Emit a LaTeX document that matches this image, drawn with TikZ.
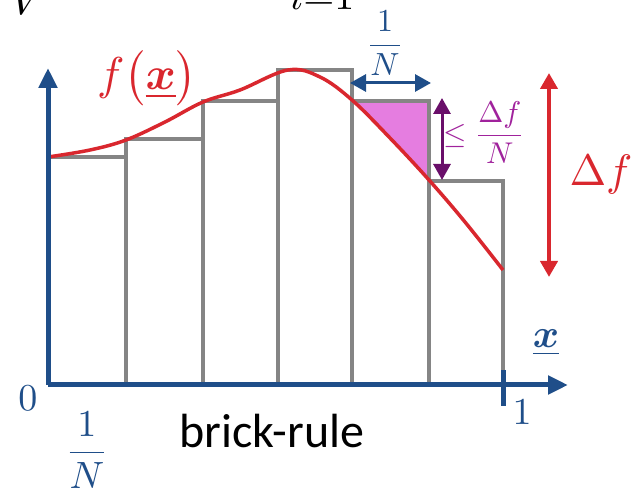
\documentclass[tikz,border=0pt]{standalone}
\usepackage{amsmath,bm}
\usepackage{fontspec}
\newfontfamily\calib{Carlito}
\usetikzlibrary{arrows.meta}
\definecolor{axblue}{HTML}{1F4E89}
\definecolor{cred}{HTML}{D9272E}
\definecolor{bgray}{HTML}{858585}
\definecolor{pinkfill}{HTML}{E57DE0}
\definecolor{darkpurp}{HTML}{6A0F6A}
\definecolor{txtpurp}{HTML}{A0229C}
\newcommand\mysz[2]{\scalebox{#1}{$\displaystyle #2$}}
\newcommand\curvepts{(48,157) (90,150) (126,140) (165,122) (203,102) (240,90) (288,70) (320,77) (352,100) (390,138) (429,180) (465,222) (503,270)}
\tikzset{
  brick/.style={draw=bgray,line width=3.5pt},
  axis/.style={draw=axblue,line width=5pt,-{Triangle[length=20pt,width=18pt]}},
  dblarr/.style={{Triangle[length=16pt,width=17pt]}-{Triangle[length=16pt,width=17pt]}},
  lbl/.style={inner sep=0pt},
}
\begin{document}
\begin{tikzpicture}[x=1pt,y=-1pt]
\useasboundingbox (0,0) rectangle (633,497);
\clip (0,0) rectangle (633,497);
% cut-off text at top
\node[lbl,anchor=base] (topv) at (28,15) {\mysz{4.4}{V}};
\node[lbl,anchor=base] (topi) at (322,10) {\mysz{4.0}{i{=}1}};
% pink triangle
\begin{scope}
  \clip (352,101) rectangle (429,200);
  \fill[pinkfill] plot[smooth,tension=0.6] coordinates {\curvepts} -- (503,0) -- (48,0) -- cycle;
\end{scope}
% bricks
\draw[brick] (48,385) -- (48,157) -- (126,157) -- (126,385);
\draw[brick] (126,157) -- (126,139) -- (203,139) -- (203,385);
\draw[brick] (203,139) -- (203,101) -- (278,101) -- (278,385);
\draw[brick] (278,101) -- (278,70) -- (352,70) -- (352,385);
\draw[brick] (352,101) -- (429,101) -- (429,385);
\draw[brick] (429,181) -- (503,181) -- (503,385);
% curve
\draw[cred,line width=3.5pt] plot[smooth,tension=0.6] coordinates {\curvepts};
% axes
\coordinate (o) at (48,385);
\coordinate (xend) at (568,385);
\coordinate (yend) at (48,68);
\draw[axis] (o) -- (xend);
\draw[axis] (o) -- (yend);
\coordinate (tka) at (503,370);
\coordinate (tkb) at (503,406);
\draw[axblue,line width=5pt] (tka) -- (tkb);
% labels
\node[lbl,text=axblue] (zero) at (28,398) {\mysz{3.8}{0}};
\node[lbl,text=axblue] (one) at (522,412) {\mysz{3.8}{1}};
\node[lbl,text=axblue] (xlab) at (546,343) {\mysz{4.0}{\underline{\bm{x}}}};
\node[lbl,text=axblue] (fracb) at (87,450) {\mysz{3.8}{\frac{1}{N}}};
\node[lbl,anchor=base] (brick) at (272,448) {\fontsize{48}{54}\selectfont\calib brick-rule};
\node[lbl,text=cred] (fx) at (147,78) {\mysz{4.6}{f\bigl(\underline{\bm{x}}\bigr)}};
% 1/N arrow
\coordinate (wa) at (350,83);
\coordinate (wb) at (431,83);
\draw[axblue,line width=3pt,dblarr] (wa) -- (wb);
\node[lbl,text=axblue] (fract) at (385,43) {\mysz{3.2}{\frac{1}{N}}};
% purple arrow
\coordinate (pa) at (442,98);
\coordinate (pb) at (442,180);
\draw[darkpurp,line width=3pt,dblarr] (pa) -- (pb);
\node[lbl,text=txtpurp] (dfn) at (484,133) {\mysz{3.0}{\leq\frac{\Delta f}{N}}};
% red arrow
\coordinate (ra) at (549,73);
\coordinate (rb) at (549,277);
\draw[cred,line width=4.5pt,dblarr] (ra) -- (rb);
\node[lbl,text=cred] (df) at (601,175) {\mysz{4.4}{\Delta f}};
\end{tikzpicture}
\end{document}
